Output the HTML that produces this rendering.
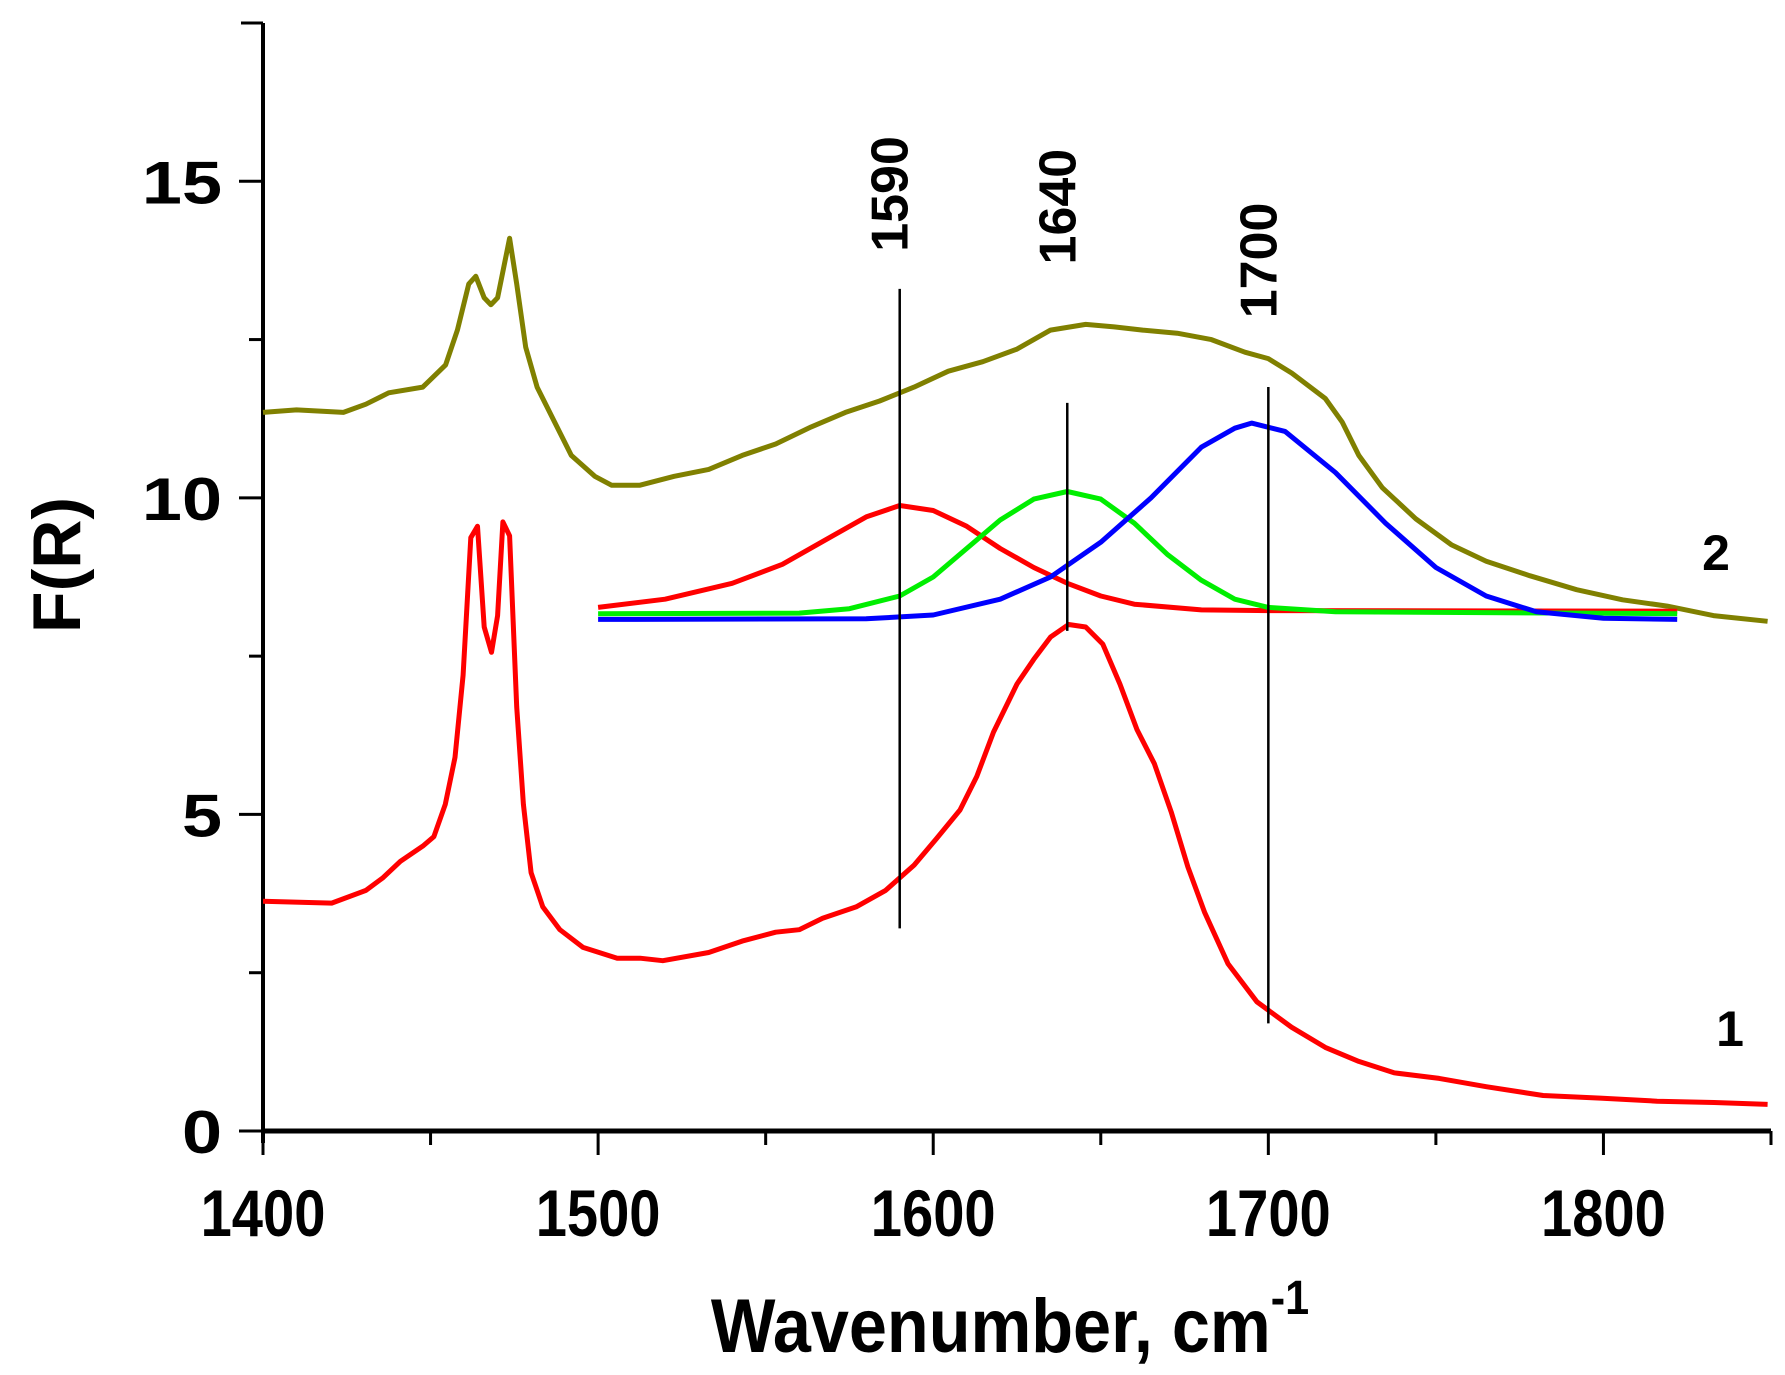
<!DOCTYPE html>
<html><head><meta charset="utf-8"><style>
html,body{margin:0;padding:0;background:#fff;}
svg{display:block;font-family:"Liberation Sans",Arial,sans-serif;font-weight:bold;}
</style></head><body>
<svg id="chart" width="1785" height="1375" viewBox="0 0 1785 1375" xmlns="http://www.w3.org/2000/svg">
<g id="axes"></g>
<g id="series"></g>
<g id="annot"></g>
<text x="1010" y="1352" font-size="76" text-anchor="middle" transform="translate(1010 0) scale(0.9 1) translate(-1010 0)">Wavenumber, cm<tspan font-size="48" dy="-38">-1</tspan></text>
<text x="0" y="0" font-size="68" text-anchor="middle" transform="translate(80 565) rotate(-90)">F(R)</text>
<text x="1716" y="570" font-size="50" text-anchor="middle">2</text>
<text x="1730" y="1046" font-size="50" text-anchor="middle">1</text>
</svg>
<script>
const xTicks = [1400,1500,1600,1700,1800];
const yTicks = [0,5,10,15];
const xMinor = [1450,1550,1650,1750,1850];
const yMinor = [2.5,7.5,12.5,17.5];
const peakLabels = [1590,1640,1700];
const peakLineTop = [13.3,11.5,11.75];
const peakLineBottom = [3.2,7.9,1.7];
const peakLabelCenter = [14.8,14.6,13.75];
const c1x = [1400,1420.5,1430.7,1435.8,1441,1447.7,1451,1454.4,1457.3,1459.7,1462,1464,1466,1468.2,1470,1471.6,1473.6,1475.7,1477.7,1480,1483.5,1488.6,1495.5,1505.7,1512.5,1519.3,1533,1543,1553,1560,1567,1577,1585.8,1594.3,1601,1608,1613,1618,1625,1630,1635,1640.4,1645.5,1650.6,1655.7,1660.8,1666,1671,1676,1681,1688,1696.6,1706.9,1717,1727,1737.5,1751,1765,1782,1799,1816,1833,1849];
const c1y = [3.63,3.6,3.8,4.0,4.26,4.5,4.65,5.16,5.9,7.2,9.37,9.55,7.96,7.56,8.14,9.62,9.4,6.7,5.16,4.08,3.54,3.18,2.9,2.73,2.73,2.69,2.82,3.0,3.14,3.18,3.36,3.54,3.8,4.2,4.62,5.07,5.6,6.3,7.06,7.45,7.8,8.0,7.96,7.69,7.06,6.34,5.8,5.04,4.17,3.45,2.64,2.04,1.64,1.32,1.1,0.92,0.83,0.7,0.56,0.52,0.47,0.45,0.42];
const c2x = [1400,1410,1424,1430.7,1437.5,1447.7,1454.5,1458,1461.4,1463.5,1466,1468,1470,1473.6,1475.7,1478.4,1481.8,1487,1492,1499,1504,1512.5,1522.7,1533,1543,1553,1563.6,1573.8,1584,1594.3,1604.5,1614.8,1625,1635,1645.5,1654,1662.5,1672.8,1683,1693,1700,1707,1717,1722,1727,1734,1744,1754.6,1765,1778,1792,1805.7,1819,1832.8,1849];
const c2y = [11.35,11.39,11.35,11.48,11.66,11.75,12.1,12.65,13.38,13.5,13.16,13.05,13.16,14.1,13.38,12.38,11.75,11.2,10.67,10.34,10.2,10.2,10.34,10.45,10.67,10.85,11.12,11.35,11.53,11.75,12.0,12.15,12.35,12.65,12.74,12.7,12.65,12.6,12.5,12.3,12.2,11.97,11.57,11.2,10.67,10.16,9.67,9.26,9.0,8.77,8.55,8.39,8.29,8.14,8.05];
const gRx = [1500,1520,1540,1555,1570,1580,1590,1600,1610,1620,1630,1640,1650,1660,1680,1700,1822];
const gRy = [8.27,8.4,8.65,8.95,9.4,9.7,9.88,9.8,9.55,9.2,8.9,8.65,8.45,8.32,8.23,8.22,8.21];
const gGx = [1500,1560,1575,1590,1600,1610,1620,1630,1640,1650,1660,1670,1680,1690,1700,1720,1822];
const gGy = [8.17,8.18,8.25,8.45,8.75,9.2,9.65,9.98,10.1,9.98,9.6,9.1,8.7,8.4,8.27,8.2,8.17];
const gBx = [1500,1580,1600,1620,1635,1650,1665,1680,1690,1695,1705,1720,1735,1750,1765,1780,1800,1822];
const gBy = [8.08,8.09,8.15,8.4,8.75,9.3,10.0,10.8,11.1,11.18,11.05,10.4,9.6,8.9,8.45,8.2,8.1,8.08];

const X0=263,X1=1771,Y0=1131,Y1=23;
function sx(v){return X0+(v-1400)/(1850-1400)*(X1-X0);}
function sy(v){return Y0-(v/17.5)*(Y0-Y1);}
const NS="http://www.w3.org/2000/svg";
function mk(tag,parent,attrs){const e=document.createElementNS(NS,tag);for(const k in attrs)e.setAttribute(k,attrs[k]);parent.appendChild(e);return e;}
const axes=document.getElementById('axes'),series=document.getElementById('series'),annot=document.getElementById('annot');

let e=mk('line',axes,{x1:X0,y1:Y0,x2:X1,y2:Y0,stroke:'#000','stroke-width':5});


e=mk('line',axes,{x1:X0,y1:Y0+12,x2:X0,y2:Y1,stroke:'#000','stroke-width':4});


mk('line',axes,{x1:X0-22,y1:Y1,x2:X0,y2:Y1,stroke:'#000','stroke-width':3});
xTicks.forEach(t=>{
  const l=mk('line',axes,{x1:sx(t),y1:Y0,x2:sx(t),y2:Y0+24,stroke:'#000','stroke-width':3});
  
  
  const tx=mk('text',axes,{x:sx(t),y:Y0+105,'font-size':66,'text-anchor':'middle',transform:`translate(${sx(t)} 0) scale(0.85 1) translate(${-sx(t)} 0)`});
  tx.textContent=t;
  
  
});
xMinor.forEach(t=>{
  const l=mk('line',axes,{x1:sx(t),y1:Y0,x2:sx(t),y2:Y0+14,stroke:'#000','stroke-width':3});
  
  
});
yTicks.forEach(t=>{
  const l=mk('line',axes,{x1:X0-24,y1:sy(t),x2:X0,y2:sy(t),stroke:'#000','stroke-width':3});
  
  
  const tx=mk('text',axes,{x:222,y:sy(t)+22,'font-size':60,'text-anchor':'end',transform:`translate(222 0) scale(1.2 1) translate(-222 0)`});
  tx.textContent=t;
  
  
});
yMinor.forEach(t=>{
  const l=mk('line',axes,{x1:X0-14,y1:sy(t),x2:X0,y2:sy(t),stroke:'#000','stroke-width':3});
  
  
});
function poly(xs,ys,color,w,name){
  const p=mk('polyline',series,{points:xs.map((x,i)=>sx(x).toFixed(1)+','+sy(ys[i]).toFixed(1)).join(' '),fill:'none',stroke:color,'stroke-width':w,'stroke-linejoin':'round'});
  
  
}
poly(c2x,c2y,'#808000',5,'curve-2');
poly(gRx,gRy,'#ff0000',5,'fit-1590');
poly(gGx,gGy,'#00ee00',5,'fit-1640');
poly(gBx,gBy,'#0000ff',5,'fit-1700');
poly(c1x,c1y,'#ff0000',5,'curve-1');
peakLabels.forEach((p,i)=>{
  const l=mk('line',annot,{x1:sx(p),y1:sy(peakLineTop[i]),x2:sx(p),y2:sy(peakLineBottom[i]),stroke:'#000','stroke-width':2.5});
  
  
  const lx=sx(p)-10, ly=sy(peakLabelCenter[i]);
  const t=mk('text',annot,{x:0,y:0,'font-size':52,'text-anchor':'middle',transform:`translate(${lx} ${ly}) rotate(-90) translate(0 18)`});
  t.textContent=p;
  
  
});
</script>
</body></html>
